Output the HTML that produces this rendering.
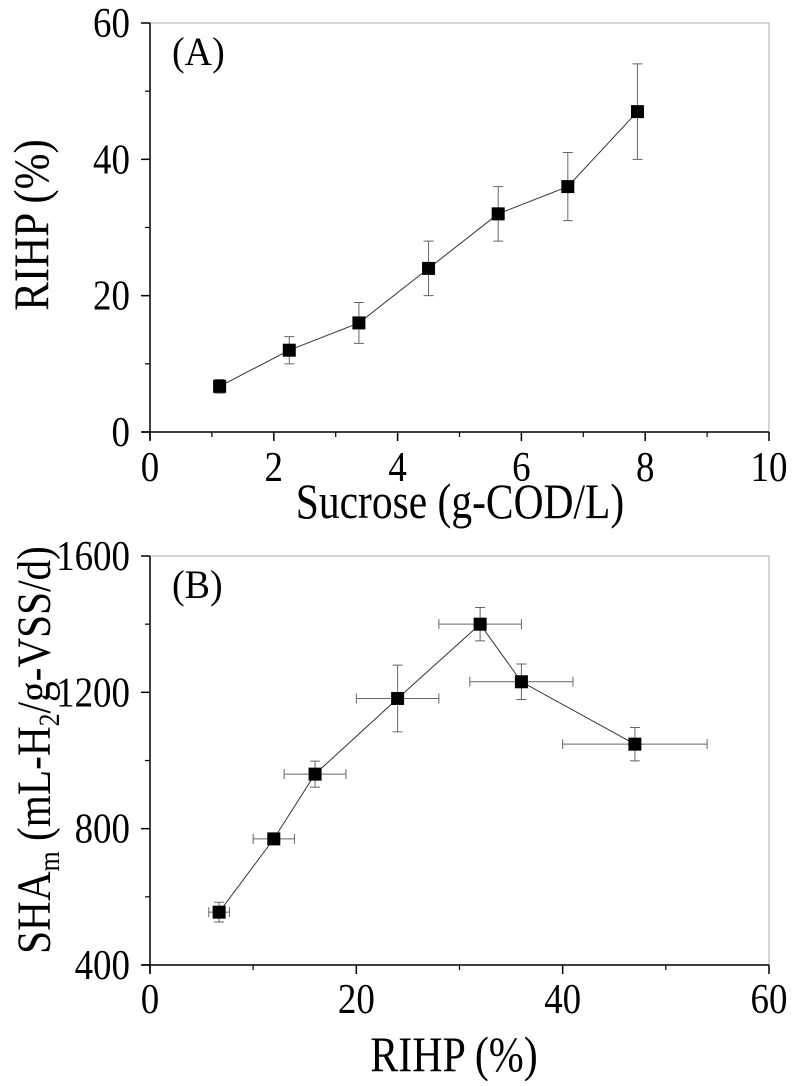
<!DOCTYPE html>
<html><head><meta charset="utf-8"><style>
html,body{margin:0;padding:0;background:#fff;}
svg text{font-family:"Liberation Serif",serif;fill:#000;}
</style></head><body>
<svg id="chart" width="796" height="1081" viewBox="0 0 796 1081" xmlns="http://www.w3.org/2000/svg"></svg>
<script>
const sucrose = [1.125, 2.25, 3.375, 4.5, 5.625, 6.75, 7.875];
const rihp = [6.7, 12, 16, 24, 32, 36, 47];
const rihpErr = [1, 2, 3, 4, 4, 5, 7];
const sha = [555, 770, 960, 1182, 1400, 1231, 1048];
const shaErr = [29, 8, 38, 98, 49, 52, 49];
const xTicksA = [0, 2, 4, 6, 8, 10];
const yTicksA = [0, 20, 40, 60];
const xTicksB = [0, 20, 40, 60];
const yTicksB = [400, 800, 1200, 1600];

const svg = document.getElementById('chart');
const NS = 'http://www.w3.org/2000/svg';
function mk(tag, attrs, parent) {
  const e = document.createElementNS(NS, tag);
  for (const k in attrs) e.setAttribute(k, attrs[k]);
  (parent || svg).appendChild(e);
  return e;
}
function txt(x, y, s, size, anchor, parent, rot, sc) {
  const k = sc || 0.85;
  const t = mk('text', {'font-size': size, 'text-anchor': anchor,
    transform: rot ? `translate(${x},${y}) rotate(-90) scale(${k},1)` : `translate(${x},${y}) scale(${k},1)`}, parent);
  t.textContent = s;
  return t;
}

function panel(cfg) {
  const g = mk('g', {});
  
  
  const L = 150, R = 769, T = cfg.top, B = cfg.bottom;
  const sx = v => L + (v - cfg.xmin) / (cfg.xmax - cfg.xmin) * (R - L);
  const sy = v => B - (v - cfg.ymin) / (cfg.ymax - cfg.ymin) * (B - T);
  const fr = mk('path', {d: `M${L},${T} H${R} V${B}`, fill: 'none', stroke: '#aaa', 'stroke-width': 1}, g);
  
  
  const xa = mk('line', {x1: L - 8, y1: B, x2: R, y2: B, stroke: '#000', 'stroke-width': 1.5}, g);
  
  
  const ya = mk('line', {x1: L, y1: T, x2: L, y2: B + 8, stroke: '#000', 'stroke-width': 1.5}, g);
  
  
  cfg.xt.forEach((v, i) => {
    mk('line', {x1: sx(v), y1: B, x2: sx(v), y2: B + 9, stroke: '#000', 'stroke-width': 1.5}, g);
    if (i < cfg.xt.length - 1) {
      const m = (v + cfg.xt[i + 1]) / 2;
      mk('line', {x1: sx(m), y1: B, x2: sx(m), y2: B + 5, stroke: '#000', 'stroke-width': 1.2}, g);
    }
    const t = txt(sx(v), B + cfg.xlabOff, String(v), 42, 'middle', g, false, 0.88);
    
    
  });
  cfg.yt.forEach((v, i) => {
    mk('line', {x1: L - 9, y1: sy(v), x2: L, y2: sy(v), stroke: '#000', 'stroke-width': 1.5}, g);
    if (i < cfg.yt.length - 1) {
      const m = (v + cfg.yt[i + 1]) / 2;
      mk('line', {x1: L - 5, y1: sy(m), x2: L, y2: sy(m), stroke: '#000', 'stroke-width': 1.2}, g);
    }
    const t = txt(130, sy(v) + 14, String(v), 42, 'end', g, false, 0.88);
    
    
  });
  const pts = cfg.xs.map((v, i) => `${sx(v)},${sy(cfg.ys[i])}`).join(' ');
  const pl = mk('polyline', {points: pts, fill: 'none', stroke: '#333', 'stroke-width': 1}, g);
  
  
  cfg.xs.forEach((v, i) => {
    const cx = sx(v), cy = sy(cfg.ys[i]);
    if (cfg.ye) {
      const e = cfg.ye[i], y1 = sy(cfg.ys[i] + e), y2 = sy(cfg.ys[i] - e);
      const eb = mk('path', {d: `M${cx},${y1} V${y2} M${cx - 5},${y1} H${cx + 5} M${cx - 5},${y2} H${cx + 5}`, stroke: '#666', 'stroke-width': 1, fill: 'none'}, g);
      
      
    }
    if (cfg.xe) {
      const e = cfg.xe[i], x1 = sx(v - e), x2 = sx(v + e);
      const eb = mk('path', {d: `M${x1},${cy} H${x2} M${x1},${cy - 5} V${cy + 5} M${x2},${cy - 5} V${cy + 5}`, stroke: '#666', 'stroke-width': 1, fill: 'none'}, g);
      
      
    }
    const r = mk('rect', {x: cx - 6.5, y: cy - 6.5, width: 13, height: 13, fill: '#000'}, g);
    
    
  });
  const pl2 = txt(L + 22, T + 42, cfg.label, 40, 'start', g, false, 0.95);
  
  
  return g;
}

panel({name: 'panel-a', top: 23, bottom: 432, xmin: 0, xmax: 10, ymin: 0, ymax: 60,
  xt: xTicksA, yt: yTicksA, xs: sucrose, ys: rihp, ye: rihpErr, xe: null, label: '(A)', xlabOff: 49});
panel({name: 'panel-b', top: 556, bottom: 965, xmin: 0, xmax: 60, ymin: 400, ymax: 1600,
  xt: xTicksB, yt: yTicksB, xs: rihp, ys: sha, ye: shaErr, xe: rihpErr, label: '(B)', xlabOff: 48});

let t = txt(460, 518, 'Sucrose (g-COD/L)', 50, 'middle', null, false, 0.83);


t = txt(454, 1071, 'RIHP (%)', 50, 'middle', null, false, 0.84);


t = txt(48, 225, 'RIHP (%)', 50, 'middle', null, true, 0.86);


const yb = mk('text', {'font-size': 48, 'text-anchor': 'middle', transform: 'translate(50,750) rotate(-90) scale(0.86,1)'});


yb.innerHTML = 'SHA<tspan font-size="30" dy="9">m</tspan><tspan dy="-9"> (mL-H</tspan><tspan font-size="30" dy="9">2</tspan><tspan dy="-9">/g-VSS/d)</tspan>';
</script>
</body></html>
